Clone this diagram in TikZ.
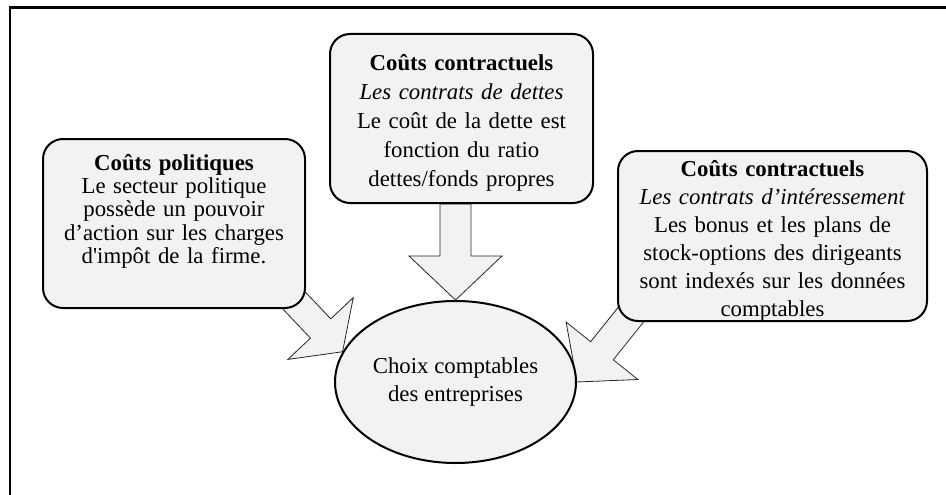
\documentclass[tikz,border=0pt]{standalone}
\usepackage{fontspec}
\setmainfont{Liberation Serif}
\usepackage{tikz}
\usetikzlibrary{shapes.geometric}
\usetikzlibrary{calc}
\usetikzlibrary{backgrounds}

\definecolor{boxfill}{HTML}{F2F2F2}

\begin{document}
\begin{tikzpicture}[x=1pt, y=-1pt,
    costbox/.style={draw, line width=2pt, fill=boxfill, rounded corners=20pt, anchor=north, inner sep=0pt, align=center},
    blockarrow/.style={draw=black!85, line width=0.8pt, fill=boxfill}]
    \useasboundingbox (0,0) rectangle (946,495);

    % Frame
    \draw[line width=2.4pt] (10,495) -- (10,7.5) -- (946,7.5);

    % Political costs
    \node[costbox, text width=262pt, text height=31pt, text depth=138pt, font=\fontsize{22.8}{23.4}\selectfont] (pol) at (174,138)
        {\textbf{Coûts politiques}\\Le secteur politique\\possède un pouvoir\\d’action sur les charges\\d\textquotesingle impôt de la firme.};

    % Contractual costs: debt
    \node[costbox, text width=263pt, text height=37pt, text depth=132pt, font=\fontsize{22.8}{28.8}\selectfont] (mid) at (461.5,33)
        {\textbf{Coûts contractuels}\\\textit{Les contrats de dettes}\\Le coût de la dette est\\fonction du ratio\\dettes/fonds propres};

    % Contractual costs: incentives
    \node[costbox, text width=309pt, text height=25pt, text depth=145pt, font=\fontsize{22.8}{28}\selectfont] (intr) at (772.5,150)
        {\textbf{Coûts contractuels}\\\textit{Les contrats d’intéressement}\\Les bonus et les plans de\\stock-options des dirigeants\\sont indexés sur les données\\comptables};

    % Accounting choices
    \node[draw, ellipse, line width=2pt, fill=boxfill, minimum width=241pt, minimum height=162pt, inner sep=0pt, align=center, font=\fontsize{22.8}{28.5}\selectfont] (choix) at (455.5,382)
        {Choix comptables\\des entreprises};

    % Block arrows
    \coordinate (polstart) at ($(pol.south east)+(-19,-16)$);
    \coordinate (midstart) at ($(mid.south)+(-6,0)$);
    \coordinate (intrstart) at ($(intr.south west)+(20,-15)$);
    \begin{scope}[on background layer]
        \foreach \sa/\ta/\hl/\sw/\hw in {polstart/choix.165/32pt/14pt/45pt, midstart/choix.north/44pt/15.5pt/46.5pt, intrstart/choix.east/40pt/14.5pt/46pt}{
            \coordinate (hb) at ($(\ta)!\hl!(\sa)$);
            \filldraw[blockarrow] ($(\sa)!\sw!90:(\ta)$) -- ($(hb)!\sw!90:(\ta)$) -- ($(hb)!\hw!90:(\ta)$) -- (\ta)
                -- ($(hb)!\hw!-90:(\ta)$) -- ($(hb)!\sw!-90:(\ta)$) -- ($(\sa)!\sw!-90:(\ta)$) -- cycle;
        }
    \end{scope}
\end{tikzpicture}
\end{document}
